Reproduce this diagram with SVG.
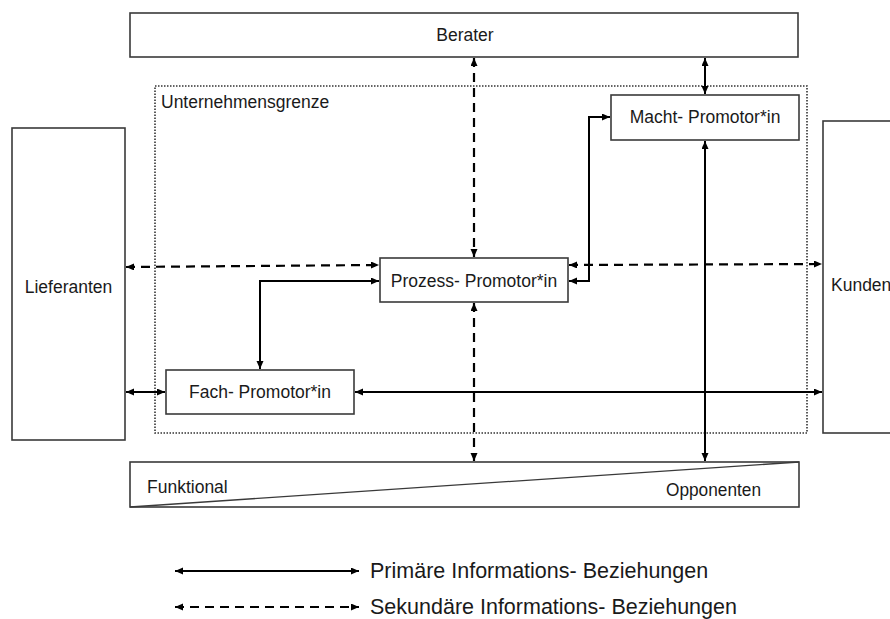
<svg xmlns="http://www.w3.org/2000/svg" width="890" height="619" viewBox="0 0 890 619">
<style>
.box{fill:#fff;stroke:#3a3a3a;stroke-width:1.6}
.t{font-family:"Liberation Sans",Arial,sans-serif;font-size:17.5px;fill:#1a1a1a}
.lg{font-family:"Liberation Sans",Arial,sans-serif;font-size:21.5px;fill:#1a1a1a}
.s{fill:none;stroke:#000;stroke-width:2}
.d{fill:none;stroke:#000;stroke-width:2.2;stroke-dasharray:9 6}
.arr{marker-start:url(#ah);marker-end:url(#ah)}
</style>
<defs>
<marker id="ah" markerUnits="userSpaceOnUse" markerWidth="9" markerHeight="8" refX="8" refY="3.5" orient="auto-start-reverse">
<path d="M0,0 L8,3.5 L0,7 z" fill="#000"/>
</marker>
</defs>
<rect id="grenze" x="155" y="86" width="652" height="347" fill="none" stroke="#333" stroke-width="1.6" stroke-dasharray="1.5 1.5"/>
<text class="t" x="161" y="108">Unternehmensgrenze</text>
<g id="berater"><rect class="box" x="130" y="13" width="668" height="44"/><text class="t" x="465" y="41" text-anchor="middle">Berater</text></g>
<g id="lieferanten"><rect class="box" x="12" y="128" width="113" height="312"/><text class="t" x="68.500" y="293" text-anchor="middle">Lieferanten</text></g>
<g id="kunden"><rect class="box" x="823" y="121" width="80" height="312"/><text class="t" x="831" y="291">Kunden</text></g>
<g id="macht"><rect class="box" x="611" y="95" width="188" height="45"/><text class="t" x="705" y="123" text-anchor="middle">Macht- Promotor*in</text></g>
<g id="prozess"><rect class="box" x="380" y="258" width="188" height="44"/><text class="t" x="474" y="287" text-anchor="middle">Prozess- Promotor*in</text></g>
<g id="fach"><rect class="box" x="166" y="370" width="188" height="44"/><text class="t" x="260" y="398" text-anchor="middle">Fach- Promotor*in</text></g>
<g id="skala"><rect class="box" x="130" y="462" width="669" height="45"/><line x1="130" y1="507" x2="799" y2="462" stroke="#3a3a3a" stroke-width="1.3"/><text class="t" x="147" y="493">Funktional</text><text class="t" x="666" y="496" textLength="95" lengthAdjust="spacingAndGlyphs">Opponenten</text></g>
<g id="connectors">
<path class="d arr" d="M474,58 V257"/>
<path class="d arr" d="M474,303 V461"/>
<path class="s arr" d="M705,58 V94"/>
<path class="s arr" d="M705,141 V461"/>
<path class="s arr" d="M569,281 H589 V117 H610"/>
<path class="d arr" d="M126,267 L379,265"/>
<path class="d arr" d="M569,265 L822,264"/>
<path class="s arr" d="M260,369 V281 H379"/>
<path class="s arr" d="M126,392 H165"/>
<path class="s arr" d="M355,392 H822"/>
</g>
<g id="legende">
<path class="s arr" d="M175,571 H359"/>
<text class="lg" x="370" y="578">Primäre Informations- Beziehungen</text>
<path class="d arr" d="M175,607 H359"/>
<text class="lg" x="370" y="614">Sekundäre Informations- Beziehungen</text>
</g>
</svg>
